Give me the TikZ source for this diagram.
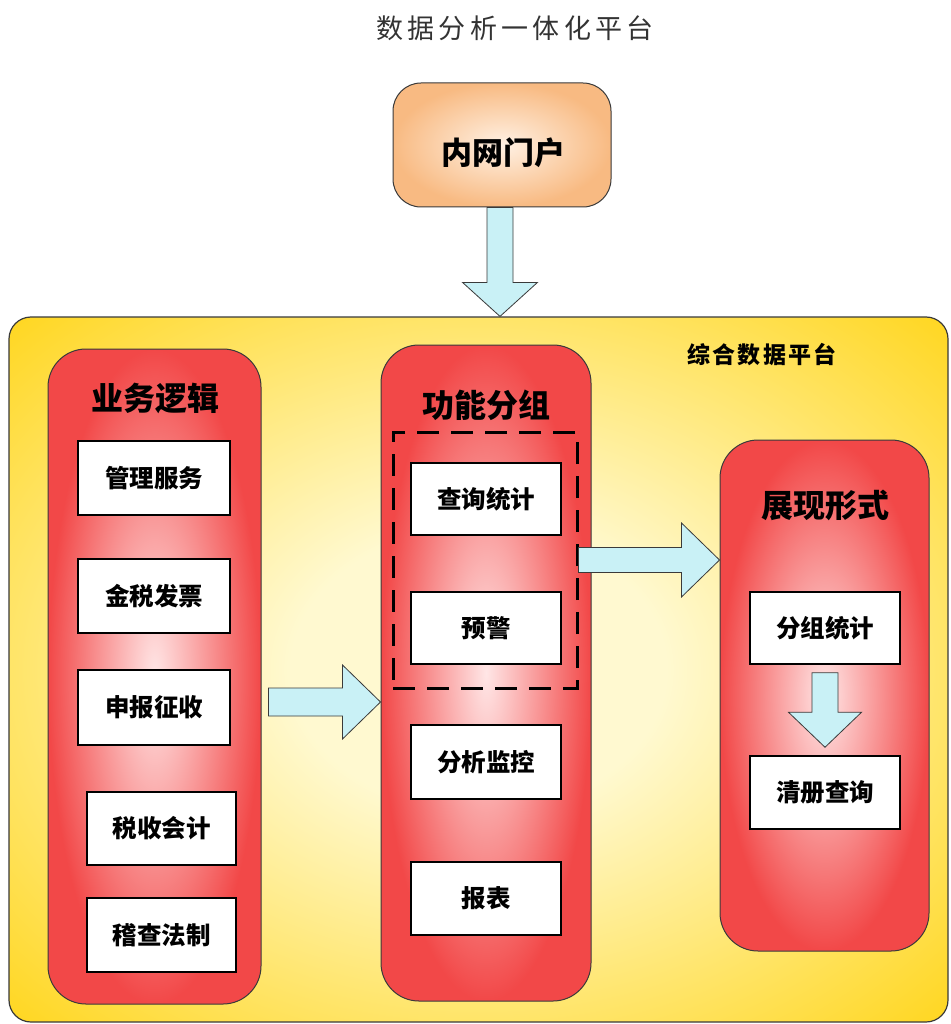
\documentclass[tikz,border=0pt]{standalone}
\usepackage{fontspec}
\setmainfont{Noto Sans CJK SC}
\usetikzlibrary{calc}
\definecolor{gold}{HTML}{FFD000}
\definecolor{paleyellow}{HTML}{FFF9D0}
\definecolor{redge}{HTML}{F24848}
\definecolor{rcenter}{HTML}{FFE6E6}
\definecolor{peach}{HTML}{F8BA82}
\definecolor{peachc}{HTML}{FFF1E4}
\definecolor{cyanfill}{HTML}{C9F1F6}
\definecolor{outl}{HTML}{3A3A3A}
\definecolor{titlegray}{HTML}{333333}
\pgfdeclareradialshading{panelshade}{\pgfpoint{0bp}{0bp}}{color(0bp)=(paleyellow); color(10bp)=(paleyellow); color(40bp)=(gold); color(50bp)=(gold)}
\begin{document}
\begin{tikzpicture}[x=1pt,y=-1pt,
  panel/.style={draw=outl, line width=1.2pt, rounded corners=22pt, shading=panelshade, inner sep=0pt},
  column/.style={draw=outl, line width=1pt, rounded corners=38pt, inner color=rcenter, outer color=redge, inner sep=0pt},
  portalbox/.style={draw=outl, line width=1pt, rounded corners=28pt, inner color=peachc, outer color=peach, inner sep=0pt, minimum width=218pt, minimum height=124pt},
  itembox/.style={draw=black, line width=1.5pt, fill=white, minimum width=150pt, minimum height=73pt, inner sep=0pt, font=\fontsize{24.5}{24.5}\selectfont\bfseries},
  coltitle/.style={inner sep=0pt, font=\fontsize{32}{32}\selectfont\bfseries},
  barrow/.style={fill=cyanfill, draw=outl, line width=0.8pt, line join=miter}
]
\useasboundingbox (0,0) rectangle (950,1024);
\fill[white] (0,0) rectangle (950,1024);

% title
\node[inner sep=0pt, text=titlegray, font=\fontsize{27}{27}\selectfont] (title) at (515,28) {\addfontfeatures{LetterSpace=16}数据分析一体化平台};

% portal
\node[portalbox] (portal) at (502,145) {};
\node[inner sep=0pt, font=\fontsize{31}{31}\selectfont\bfseries] (portaltext) at (503,153) {内网门户};

% panel
\node[panel, minimum width=939pt, minimum height=705pt] (panel) at (478.5,669.5) {};
\node[inner sep=0pt, font=\fontsize{23}{23}\selectfont\bfseries] (paneltitle) at (762,355) {\addfontfeatures{LetterSpace=10}综合数据平台};

% columns
\node[column, minimum width=213pt, minimum height=655pt] (colL) at (154.5,676.5) {};
\node[column, minimum width=210pt, minimum height=656pt] (colM) at (486,673) {};
\node[column, minimum width=209pt, minimum height=511pt] (colR) at (824.5,695.5) {};

\node[coltitle] (tL) at (155,398) {业务逻辑};
\node[coltitle] (tM) at (486,405) {功能分组};
\node[coltitle] (tR) at (825,505) {展现形式};

% left boxes
\node[itembox, minimum width=152pt, minimum height=74pt] (b1) at (154,478) {管理服务};
\node[itembox, minimum width=152pt, minimum height=74pt] (b2) at (154,596) {金税发票};
\node[itembox, minimum width=152pt, minimum height=75pt] (b3) at (154,707.5) {申报征收};
\node[itembox, minimum width=149pt, minimum height=73pt] (b4) at (161.5,828.5) {税收会计};
\node[itembox, minimum width=149pt, minimum height=74pt] (b5) at (161.5,935) {稽查法制};

% middle boxes
\node[draw=black, line width=3pt, dash pattern=on 22pt off 12pt, minimum width=184pt, minimum height=256pt, inner sep=0pt] (grp) at (485,560) {};
\node[itembox, minimum height=72pt] (m1) at (486,499) {查询统计};
\node[itembox, minimum height=72pt] (m2) at (486,628) {预警};
\node[itembox, minimum height=74pt] (m3) at (486,762) {分析监控};
\node[itembox, minimum height=73pt] (m4) at (486,898.5) {报表};

% right boxes
\node[itembox, minimum height=72pt] (r1) at (825,628) {分组统计};
\node[itembox, minimum height=73pt] (r2) at (825,792.5) {清册查询};

% arrows
\coordinate (a1s) at ($(portal.south)+(-2,0)$);
\coordinate (a1e) at (a1s |- panel.north);
\draw[barrow] ($(a1s)+(-13,0)$) -- ($(a1e)+(-13,-34)$) -- ($(a1e)+(-37.5,-34)$) -- (a1e)
  -- ($(a1e)+(37.5,-34)$) -- ($(a1e)+(13,-34)$) -- ($(a1s)+(13,0)$) -- cycle;

\coordinate (a2s) at ($(colL.east)+(7,25.5)$);
\coordinate (a2e) at (a2s -| colM.west);
\draw[barrow] ($(a2s)+(0,-14)$) -- ($(a2e)+(-38,-14)$) -- ($(a2e)+(-38,-37)$) -- (a2e)
  -- ($(a2e)+(-38,37)$) -- ($(a2e)+(-38,14)$) -- ($(a2s)+(0,14)$) -- cycle;

\coordinate (a3s) at (grp.east);
\coordinate (a3e) at (a3s -| colR.west);
\draw[barrow] ($(a3s)+(0,-12.5)$) -- ($(a3e)+(-38,-12.5)$) -- ($(a3e)+(-38,-37)$) -- (a3e)
  -- ($(a3e)+(-38,37)$) -- ($(a3e)+(-38,12.5)$) -- ($(a3s)+(0,12.5)$) -- cycle;

\coordinate (a4s) at ($(r1.south)+(0,8)$);
\coordinate (a4e) at ($(r2.north)+(0,-8)$);
\draw[barrow] ($(a4s)+(-13,0)$) -- ($(a4e)+(-13,-35)$) -- ($(a4e)+(-36.5,-35)$) -- (a4e)
  -- ($(a4e)+(36.5,-35)$) -- ($(a4e)+(13,-35)$) -- ($(a4s)+(13,0)$) -- cycle;
\end{tikzpicture}
\end{document}
